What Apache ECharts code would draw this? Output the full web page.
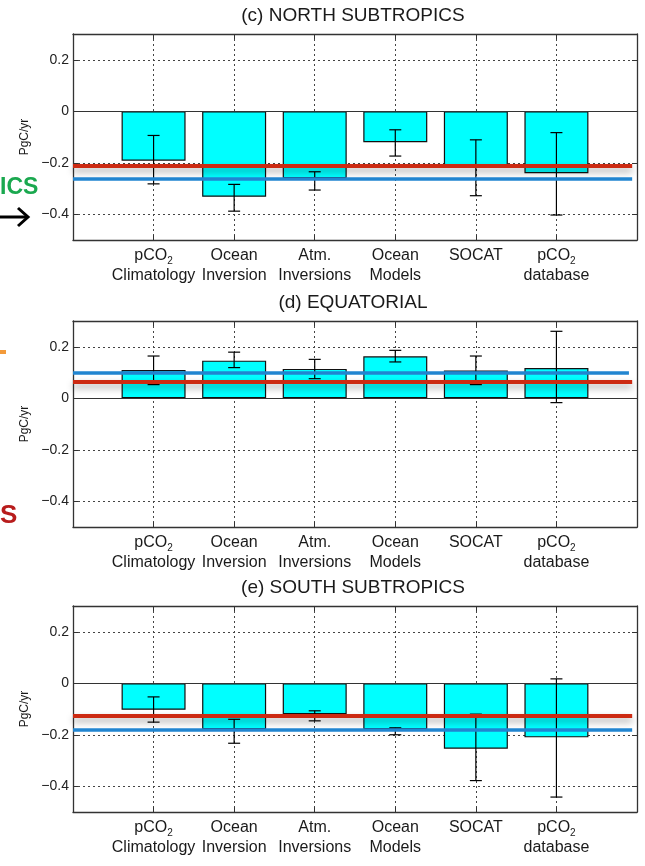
<!DOCTYPE html>
<html><head><meta charset="utf-8">
<script src="https://cdn.jsdelivr.net/npm/echarts@6/dist/echarts.min.js"></script>
<style>html,body{margin:0;padding:0;background:#fff}#c{width:645px;height:866px}</style>
</head><body><div id="c"></div>
<script>
// ---- data ----
const categoryLine1 = ['pCO_2', 'Ocean', 'Atm.', 'Ocean', 'SOCAT', 'pCO_2'];
const categoryLine2 = ['Climatology', 'Inversion', 'Inversions', 'Models', '', 'database'];
const categoryPos = [1, 2, 3, 4, 5, 6];
const yTicks = [-0.4, -0.2, 0, 0.2];
const panelTitles = ['(c) NORTH SUBTROPICS', '(d) EQUATORIAL', '(e) SOUTH SUBTROPICS'];

const northValues = [-0.192, -0.332, -0.260, -0.120, -0.215, -0.241];
const northErrLow = [-0.282, -0.388, -0.306, -0.174, -0.328, -0.403];
const northErrHigh = [-0.094, -0.284, -0.235, -0.072, -0.111, -0.083];
const northRed = -0.212;
const northBlue = -0.264;

const equatorValues = [0.110, 0.146, 0.114, 0.163, 0.108, 0.117];
const equatorErrLow = [0.053, 0.119, 0.076, 0.141, 0.053, -0.017];
const equatorErrHigh = [0.164, 0.179, 0.151, 0.186, 0.164, 0.260];
const equatorRed = 0.063;
const equatorBlue = 0.099;

const southValues = [-0.103, -0.178, -0.120, -0.178, -0.254, -0.210];
const southErrLow = [-0.151, -0.233, -0.146, -0.200, -0.378, -0.442];
const southErrHigh = [-0.053, -0.140, -0.107, -0.173, -0.120, 0.017];
const southRed = -0.128;
const southBlue = -0.182;

// ---- build ----
const panels = [
  {title: panelTitles[0], v: northValues, lo: northErrLow, hi: northErrHigh, red: northRed, blue: northBlue, top: 34, redEnd: 6.94, blueEnd: 6.94},
  {title: panelTitles[1], v: equatorValues, lo: equatorErrLow, hi: equatorErrHigh, red: equatorRed, blue: equatorBlue, top: 321, redEnd: 6.94, blueEnd: 6.90},
  {title: panelTitles[2], v: southValues, lo: southErrLow, hi: southErrHigh, red: southRed, blue: southBlue, top: 606, redEnd: 6.94, blueEnd: 6.94}
];

const FONT = 'Liberation Sans, Arial, Helvetica, sans-serif';
const axisColor = '#333';
const gridDot = {color: '#444', type: [2, 3], width: 1};

function richLine(s) {
  if (!s) return '';
  const i = s.indexOf('_');
  if (i < 0) return '{t|' + s + '}';
  return '{t|' + s.slice(0, i) + '}{sub|' + s.slice(i + 1) + '}';
}
function xLabel(val) {
  const idx = categoryPos.indexOf(Math.round(val));
  if (idx < 0) return '';
  const l2 = categoryLine2[idx];
  return richLine(categoryLine1[idx]) + (l2 ? '\n' + richLine(l2) : '');
}
function yLabel(v) {
  if (Math.abs(v) < 1e-9) return '0';
  return (v < 0 ? '\u2212' : '') + Math.abs(v).toFixed(1);
}

const grid = [], xAxis = [], yAxis = [], series = [], title = [];
panels.forEach((p, k) => {
  grid.push({left: 73, top: p.top, width: 564, height: 206, containLabel: false});
  title.push({text: p.title, left: 353, top: p.top - 28, textAlign: 'center', padding: 0,
    textStyle: {fontFamily: FONT, fontSize: 19, fontWeight: 'normal', color: '#1a1a1a', lineHeight: 20}});
  xAxis.push({type: 'value', gridIndex: k, min: 0, max: 7, interval: 1, position: 'bottom',
    axisLine: {show: true, onZero: false, lineStyle: {color: axisColor, width: 1.3}},
    axisTick: {show: true, inside: true, length: 5, customValues: categoryPos, lineStyle: {color: axisColor}},
    splitLine: {show: true, lineStyle: gridDot},
    axisLabel: {show: true, customValues: categoryPos, margin: 6, formatter: xLabel,
      rich: {t: {fontFamily: FONT, fontSize: 16, color: '#1a1a1a', lineHeight: 20},
             sub: {fontFamily: FONT, fontSize: 10, color: '#1a1a1a', lineHeight: 20, verticalAlign: 'bottom', padding: [6, 0, 0, 0]}}}});
  xAxis.push({type: 'value', gridIndex: k, min: 0, max: 7, interval: 1, position: 'top',
    axisLine: {show: true, onZero: false, lineStyle: {color: axisColor, width: 1.3}},
    axisTick: {show: true, inside: true, length: 5, customValues: categoryPos, lineStyle: {color: axisColor}},
    splitLine: {show: false}, axisLabel: {show: false}});
  yAxis.push({type: 'value', gridIndex: k, min: -0.5, max: 0.3, interval: 0.1, position: 'left',
    name: 'PgC/yr', nameLocation: 'middle', nameGap: 40, nameRotate: 90,
    nameTextStyle: {fontFamily: FONT, fontSize: 12, color: '#1a1a1a'},
    axisLine: {show: true, onZero: false, lineStyle: {color: axisColor, width: 1.3}},
    axisTick: {show: true, inside: true, length: 5, customValues: yTicks, lineStyle: {color: axisColor}},
    splitLine: {show: true, lineStyle: gridDot},
    axisLabel: {show: true, customValues: yTicks, margin: 4, formatter: yLabel,
      fontFamily: FONT, fontSize: 14, color: '#222'}});
  yAxis.push({type: 'value', gridIndex: k, min: -0.5, max: 0.3, interval: 0.1, position: 'right',
    axisLine: {show: true, onZero: false, lineStyle: {color: axisColor, width: 1.3}},
    axisTick: {show: true, inside: true, length: 5, customValues: yTicks, lineStyle: {color: axisColor}},
    splitLine: {show: false}, axisLabel: {show: false}});

  const xi = 2 * k, yi = 2 * k;
  series.push({type: 'bar', xAxisIndex: xi, yAxisIndex: yi, barWidth: 64, z: 2,
    data: p.v.map((v, i) => [categoryPos[i], v]),
    itemStyle: {color: '#00FFFF', borderColor: '#111', borderWidth: 1.2},
    markLine: {silent: true, symbol: 'none', label: {show: false}, z: 3,
      lineStyle: {color: axisColor, type: 'solid', width: 1.2}, data: [{yAxis: 0}]}});
  series.push({type: 'custom', xAxisIndex: xi, yAxisIndex: yi, z: 4,
    data: p.v.map((v, i) => [categoryPos[i], p.lo[i], p.hi[i]]),
    encode: {x: 0, y: [1, 2]},
    renderItem: function (params, api) {
      const x = api.value(0);
      const a = api.coord([x, api.value(1)]);
      const b = api.coord([x, api.value(2)]);
      const c = 6, st = {stroke: '#000', lineWidth: 1.2};
      return {type: 'group', children: [
        {type: 'line', shape: {x1: a[0], y1: a[1], x2: b[0], y2: b[1]}, style: st},
        {type: 'line', shape: {x1: a[0] - c, y1: a[1], x2: a[0] + c, y2: a[1]}, style: st},
        {type: 'line', shape: {x1: b[0] - c, y1: b[1], x2: b[0] + c, y2: b[1]}, style: st}
      ]};
    }});
  series.push({type: 'line', xAxisIndex: xi, yAxisIndex: yi, data: [], z: 10,
    markLine: {silent: true, symbol: 'none', label: {show: false}, z: 10,
      data: [
        [{coord: [0, p.red], lineStyle: {color: '#CC2A12', width: 4, type: 'solid', shadowColor: 'rgba(0,0,0,0.35)', shadowBlur: 7, shadowOffsetY: 4}},
         {coord: [p.redEnd, p.red]}],
        [{coord: [0, p.blue], lineStyle: {color: '#2185D0', width: 3.5, type: 'solid'}},
         {coord: [p.blueEnd, p.blue]}]
      ]}});
});

const chart = echarts.init(document.getElementById('c'), null, {renderer: 'canvas'});
chart.setOption({
  animation: false,
  backgroundColor: '#fff',
  title, grid, xAxis, yAxis, series,
  graphic: [
    {type: 'text', left: 0, top: 176, style: {text: 'ICS', fontFamily: FONT, fontSize: 23, fontWeight: 'bold', fill: '#1AA84F'}},
    {type: 'polyline', shape: {points: [[0, 217], [28, 217]]}, style: {stroke: '#000', lineWidth: 3}},
    {type: 'polyline', shape: {points: [[18, 208], [28, 217], [18, 226]]}, style: {stroke: '#000', lineWidth: 3, fill: null}},
    {type: 'rect', shape: {x: 0, y: 350, width: 6, height: 4}, style: {fill: '#F39A3A'}},
    {type: 'text', left: 0, top: 503, style: {text: 'S', fontFamily: FONT, fontSize: 26, fontWeight: 'bold', fill: '#B81C1C'}}
  ]
});
</script></body></html>
